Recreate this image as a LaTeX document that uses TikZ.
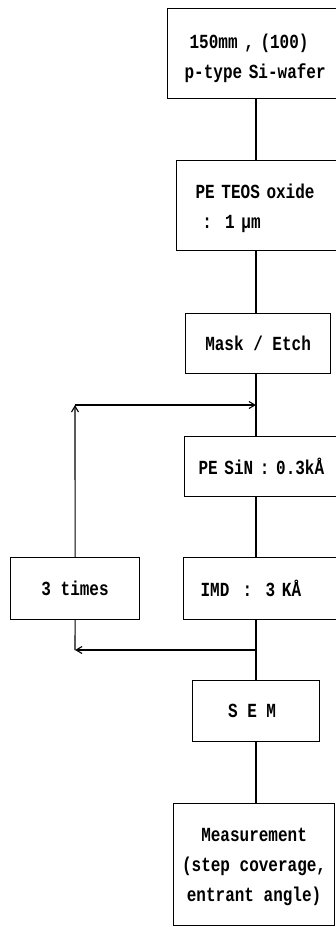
\documentclass[tikz,border=0pt]{standalone}
\usepackage{fontspec}
\setmonofont[FakeStretch=0.8]{Liberation Mono}
\usetikzlibrary{arrows.meta}
\newcommand\monospacing{\fontdimen2\font=\fontcharwd\font`\x \fontdimen3\font=0pt \fontdimen4\font=0pt }
\begin{document}
\begin{tikzpicture}[x=1pt,y=-1pt,
  box/.style={draw, line width=1.2pt, anchor=north west, inner ysep=0pt,
    font=\ttfamily\bfseries\fontsize{20}{30}\selectfont\monospacing},
  conn/.style={line width=1.1pt},
  arr/.style={line width=1.1pt, -{Straight Barb[length=6pt,width=7pt,line width=1.1pt]}}]
\useasboundingbox (0,0) rectangle (336,927);
\clip (0,0) rectangle (336,927);
\node[box, minimum width=185pt, minimum height=90pt, inner xsep=17pt, text width=151pt, align=left] (b1) at (167,8)
  {\rule{0pt}{23pt}\hspace*{5pt}150mm , (100)\\p-type Si-wafer};
\node[box, minimum width=176pt, minimum height=90pt, inner xsep=19pt, text width=138pt, align=left] (b2) at (176,160)
  {\rule{0pt}{19pt}PE TEOS oxide\\~:~~1~μm};
\node[box, minimum width=145pt, minimum height=60pt, inner xsep=0pt, align=center] (b3) at (185,313)
  {Mask / Etch};
\node[box, minimum width=168pt, minimum height=60pt, inner xsep=14pt, text width=140pt, align=left] (b4) at (184,436)
  {PE SiN : 0.3kÅ};
\node[box, minimum width=129pt, minimum height=62pt, inner xsep=0pt, align=center] (times) at (10,557)
  {3 times};
\node[box, minimum width=169pt, minimum height=62pt, inner xsep=17pt, text width=135pt, align=left] (imd) at (183,557)
  {IMD~~:~~3~KÅ};
\node[box, minimum width=127pt, minimum height=61pt, inner xsep=0pt, align=center] (sem) at (192,680)
  {S~E~M\hspace*{8pt}};
\node[box, minimum width=161pt, minimum height=122pt, inner xsep=0pt, align=center] (meas) at (173,803)
  {\rule{0pt}{19pt}Measurement\\(step coverage,\\ entrant angle)};
\coordinate (ctop) at (256,405);
\coordinate (ctl) at (75,405);
\coordinate (cbot) at (256,650);
\coordinate (cbl) at (75,650);
\draw[conn] (b1.south -| ctop) -- (b2.north -| ctop);
\draw[conn] (b2.south -| ctop) -- (b3.north -| ctop);
\draw[conn] (b3.south -| ctop) -- (b4.north -| ctop);
\draw[conn] (b4.south -| ctop) -- (imd.north -| ctop);
\draw[conn] (imd.south -| ctop) -- (sem.north -| ctop);
\draw[conn] (sem.south -| ctop) -- (meas.north -| ctop);
\draw[arr] (times.north) -- (ctl);
\draw[arr] (ctl) -- (ctop);
\draw[arr] (cbot) -- (cbl);
\draw[conn] (times.south) -- (cbl);
\end{tikzpicture}
\end{document}
